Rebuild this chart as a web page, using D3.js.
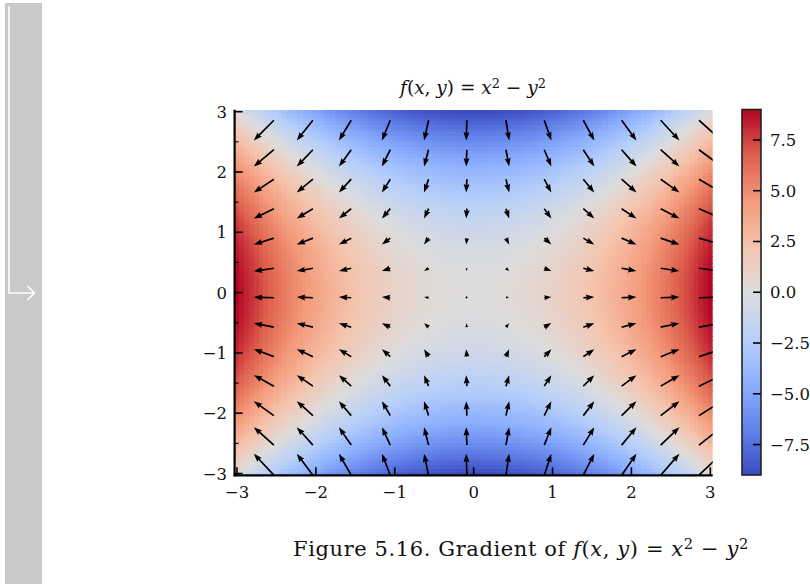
<!DOCTYPE html>
<html>
<head>
<meta charset="utf-8">
<script src="https://cdn.jsdelivr.net/npm/d3@7"></script>
<style>
  body { margin: 0; background: #fff; }
  svg { display: block; }
  text { font-family: "DejaVu Serif", "Liberation Serif", serif; fill: #111; }
</style>
</head>
<body>
<div id="chart"></div>
<script>
// grid of the quiver arrows
const arrowXs = [-2.66, -2.14, -1.63, -1.11, -0.60, -0.09, 0.43, 0.94, 1.46, 1.97, 2.49, 3.00];
const arrowYs = [-2.85, -2.38, -1.92, -1.46, -1.00, -0.54, -0.08, 0.38, 0.85, 1.31, 1.77, 2.23, 2.69];
const xTicks = [-3, -2, -1, 0, 1, 2, 3];
const yTicks = [-3, -2, -1, 0, 1, 2, 3];
const yMinorTicks = [-2.5, -1.5, -0.5, 0.5, 1.5, 2.5];
const cbTicks = [-7.5, -5, -2.5, 0, 2.5, 5, 7.5];
const heatCells = 100;          // pcolormesh resolution
const domainLo = -3, domainHi = 3;
const vmin = -9, vmax = 9;

// the plotted function and its gradient
const f = (x, y) => x * x - y * y;
const grad = (x, y) => [2 * x, -2 * y];

// matplotlib "coolwarm" sampled
const coolwarmStops = ['#3b4cc0', '#6282ea', '#8db0fe', '#b8d0f9', '#dddcdc',
                       '#f5c4ad', '#f49a7b', '#de604d', '#b40426'];

const W = 810, H = 584;
const svg = d3.select('#chart').append('svg')
    .attr('width', W).attr('height', H);

// left margin bar of the page
svg.append('rect')
    .attr('x', 5).attr('y', 3).attr('width', 37).attr('height', H - 3)
    .attr('fill', '#c8c9cb');
svg.append('path')
    .attr('d', 'M9,7 V293 H34 M28,286.5 L34.5,293 L28,299.5')
    .attr('fill', 'none').attr('stroke', '#fff').attr('stroke-width', 1.6)
    .attr('stroke-linejoin', 'round').attr('stroke-linecap', 'round');

const x = d3.scaleLinear().domain([domainLo, domainHi]).range([237, 710.3]);
const y = d3.scaleLinear().domain([domainLo, domainHi]).range([473.5, 111.7]);
const color = d3.scaleLinear()
    .domain(d3.range(coolwarmStops.length).map(i => vmin + i * (vmax - vmin) / (coolwarmStops.length - 1)))
    .range(coolwarmStops)
    .interpolate(d3.interpolateRgb)
    .clamp(true);

// heatmap cells (centres on linspace(-3, 3, 100))
const step = (domainHi - domainLo) / (heatCells - 1);
const centres = d3.range(heatCells).map(i => domainLo + i * step);
const cells = [];
centres.forEach(cy => centres.forEach(cx => cells.push({ cx, cy, v: f(cx, cy) })));

const x0 = x(domainLo - step / 2), x1 = x(domainHi + step / 2);
const y0 = y(domainHi + step / 2), y1 = y(domainLo - step / 2);

svg.append('clipPath').attr('id', 'plotClip')
    .append('rect').attr('x', x0).attr('y', y0)
    .attr('width', x1 - x0).attr('height', y1 - y0);

const plot = svg.append('g').attr('clip-path', 'url(#plotClip)');

plot.append('g').attr('shape-rendering', 'crispEdges').selectAll('rect')
    .data(cells)
    .enter().append('rect')
    .attr('x', d => x(d.cx - step / 2))
    .attr('y', d => y(d.cy + step / 2))
    .attr('width', d => x(d.cx + step / 2) - x(d.cx - step / 2) + 0.6)
    .attr('height', d => y(d.cy - step / 2) - y(d.cy + step / 2) + 0.6)
    .attr('fill', d => color(d.v));

// quiver, pivot = middle
const pxPerUnit = 3.77;
const shaftW = 1.7, headL = 8.5, headAxL = 7.6, headW = 6;

function arrowPath(len) {
    let s = 1, L = len;
    if (len < headL) { s = len / headL; L = headL; }
    const pts = [
        [0, -shaftW / 2], [L - headAxL, -shaftW / 2], [L - headL, -headW / 2], [L, 0],
        [L - headL, headW / 2], [L - headAxL, shaftW / 2], [0, shaftW / 2]
    ].map(p => [p[0] * s - len / 2, p[1] * s]);
    return 'M' + pts.map(p => p[0].toFixed(2) + ',' + p[1].toFixed(2)).join('L') + 'Z';
}

const arrows = [];
arrowYs.forEach(ay => arrowXs.forEach(ax => {
    const [u, v] = grad(ax, ay);
    arrows.push({ ax, ay, len: Math.hypot(u, v) * pxPerUnit, ang: Math.atan2(-v, u) * 180 / Math.PI });
}));

const ag = plot.append('g').selectAll('g')
    .data(arrows)
    .enter().append('g')
    .attr('transform', d => `translate(${x(d.ax)},${y(d.ay)}) rotate(${d.ang})`);
ag.filter(d => d.len >= shaftW).append('path')
    .attr('d', d => arrowPath(d.len))
    .attr('fill', '#000');
ag.filter(d => d.len < shaftW).append('circle')
    .attr('r', 1).attr('fill', '#000');

// spines and ticks
const axisG = svg.append('g').attr('stroke', '#000');
axisG.append('line')
    .attr('x1', x0).attr('x2', x0).attr('y1', y0).attr('y2', y1 + 1)
    .attr('stroke-width', 2.2);
axisG.append('line')
    .attr('x1', x0 - 1).attr('x2', x1).attr('y1', y1).attr('y2', y1)
    .attr('stroke-width', 2.2);

axisG.selectAll('.xt').data(xTicks).enter().append('line')
    .attr('x1', d => x(d)).attr('x2', d => x(d))
    .attr('y1', y1).attr('y2', y1 - 8).attr('stroke-width', 1.6);
axisG.selectAll('.yt').data(yTicks).enter().append('line')
    .attr('y1', d => y(d)).attr('y2', d => y(d))
    .attr('x1', x0).attr('x2', x0 + 8).attr('stroke-width', 1.6);
axisG.selectAll('.ym').data(yMinorTicks).enter().append('line')
    .attr('y1', d => y(d)).attr('y2', d => y(d))
    .attr('x1', x0).attr('x2', x0 + 4).attr('stroke-width', 1.1);

const fmtInt = d => (d < 0 ? '\u2212' : '') + Math.abs(d);
svg.append('g').selectAll('text').data(xTicks).enter().append('text')
    .attr('x', d => x(d)).attr('y', 498)
    .attr('text-anchor', 'middle').attr('font-size', 16.5)
    .text(fmtInt);
svg.append('g').selectAll('text').data(yTicks).enter().append('text')
    .attr('x', 227).attr('y', d => y(d) + 6)
    .attr('text-anchor', 'end').attr('font-size', 16.5)
    .text(fmtInt);

// colour bar
const cb = d3.scaleLinear().domain([vmin, vmax]).range([475, 109.5]);
const cbX = 742, cbW = 19;
const grad0 = svg.append('defs').append('linearGradient')
    .attr('id', 'cbGrad').attr('x1', 0).attr('y1', 1).attr('x2', 0).attr('y2', 0);
grad0.selectAll('stop').data(coolwarmStops).enter().append('stop')
    .attr('offset', (d, i) => i / (coolwarmStops.length - 1))
    .attr('stop-color', d => d);
svg.append('rect')
    .attr('x', cbX).attr('y', cb(vmax)).attr('width', cbW).attr('height', cb(vmin) - cb(vmax))
    .attr('fill', 'url(#cbGrad)');
svg.append('g').selectAll('line').data(cbTicks).enter().append('line')
    .attr('x1', cbX + cbW).attr('x2', cbX + cbW - 8)
    .attr('y1', d => cb(d)).attr('y2', d => cb(d))
    .attr('stroke', '#000').attr('stroke-width', 1.6);
svg.append('rect')
    .attr('x', cbX).attr('y', cb(vmax)).attr('width', cbW).attr('height', cb(vmin) - cb(vmax))
    .attr('fill', 'none').attr('stroke', '#222').attr('stroke-width', 1.6);
svg.append('g').selectAll('text').data(cbTicks).enter().append('text')
    .attr('x', 770).attr('y', d => cb(d) + 6)
    .attr('font-size', 16.5)
    .text(d => (d < 0 ? '\u2212' : '') + Math.abs(d).toFixed(1));

// title and caption with math parts
function mathText(sel, parts) {
    parts.forEach(p => {
        const t = sel.append('tspan').text(p.t);
        if (p.i) t.attr('font-style', 'italic');
        if (p.sup) t.attr('font-size', '0.7em').attr('dy', '-0.45em');
        if (p.down) t.attr('dy', '0.315em');
    });
}

const title = svg.append('text')
    .attr('x', 473).attr('y', 94).attr('text-anchor', 'middle').attr('font-size', 18.5)
    .style('white-space', 'pre');
mathText(title, [
    { t: 'f', i: true }, { t: '(' }, { t: 'x', i: true }, { t: ', ' }, { t: 'y', i: true },
    { t: ') = ' }, { t: 'x', i: true }, { t: '2', sup: true }, { t: ' \u2212 ', down: true },
    { t: 'y', i: true }, { t: '2', sup: true }
]);

const caption = svg.append('text')
    .attr('x', 293).attr('y', 556).attr('font-size', 21)
    .attr('letter-spacing', 0.6);
mathText(caption, [
    { t: 'Figure 5.16. Gradient of ' }, { t: 'f', i: true }, { t: '(' }, { t: 'x', i: true },
    { t: ', ' }, { t: 'y', i: true }, { t: ') = ' }, { t: 'x', i: true }, { t: '2', sup: true },
    { t: ' \u2212 ', down: true }, { t: 'y', i: true }, { t: '2', sup: true }
]);
</script>
</body>
</html>
